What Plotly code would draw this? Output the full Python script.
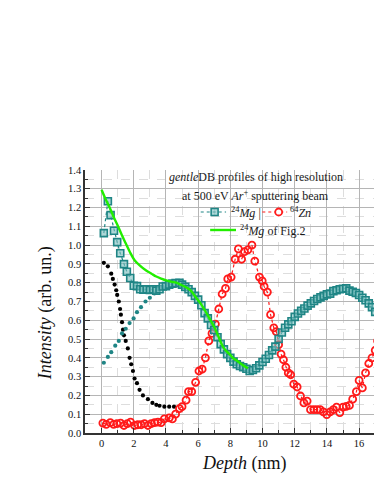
import plotly.graph_objects as go

# ---- data ----
mg_depth = [0.14, 0.39, 0.56, 0.77, 0.97, 1.16, 1.39, 1.57, 1.78, 2.0, 2.2, 2.4, 2.6, 2.8, 3.0,
            3.2, 3.4, 3.6, 3.8, 4.0, 4.2, 4.4, 4.6, 4.84, 5.0, 5.2, 5.4, 5.6, 5.8, 6.0, 6.2,
            6.4, 6.6, 6.8, 7.0, 7.2, 7.4, 7.6, 7.8, 8.0, 8.2, 8.4, 8.6, 8.8, 9.0, 9.2, 9.4,
            9.6, 9.8, 10.0, 10.2, 10.4, 10.6, 10.8, 11.0, 11.2, 11.4, 11.6, 11.8, 12.0, 12.2,
            12.4, 12.6, 12.8, 13.0, 13.2, 13.4, 13.6, 13.8, 14.0, 14.2, 14.4, 14.6, 14.8,
            15.0, 15.2, 15.4, 15.6, 15.8, 16.0, 16.2, 16.4, 16.6, 16.8, 17.0, 17.2, 17.4]
mg_int = [1.064, 1.234, 1.16, 1.077, 1.016, 0.957, 0.899, 0.858, 0.825, 0.784, 0.782, 0.765,
          0.763, 0.765, 0.762, 0.765, 0.758, 0.765, 0.78, 0.782, 0.79, 0.795, 0.798, 0.80,
          0.79, 0.778, 0.765, 0.75, 0.73, 0.71, 0.68, 0.638, 0.61, 0.575, 0.548, 0.51, 0.473,
          0.445, 0.42, 0.40, 0.38, 0.366, 0.357, 0.35, 0.342, 0.33, 0.335, 0.345, 0.36, 0.378,
          0.395, 0.415, 0.44, 0.46, 0.50, 0.535, 0.56, 0.578, 0.595, 0.618, 0.636, 0.65,
          0.663, 0.678, 0.69, 0.703, 0.713, 0.722, 0.73, 0.738, 0.742, 0.755, 0.76, 0.765,
          0.768, 0.77, 0.758, 0.752, 0.745, 0.735, 0.72, 0.707, 0.69, 0.67, 0.645, 0.633, 0.615]

zn_depth = [0.08, 0.29, 0.54, 0.75, 0.95, 1.18, 1.39, 1.6, 1.8, 2.05, 2.25, 2.46, 2.67, 2.88,
            3.08, 3.29, 3.5, 3.7, 3.9, 4.2, 4.4, 4.6, 4.84, 5.0, 5.25, 5.4, 5.6, 5.84, 6.05,
            6.25, 6.45, 6.66, 6.86, 7.07, 7.28, 7.49, 7.7, 7.84, 8.05, 8.3, 8.5, 8.7, 8.88,
            9.09, 9.34, 9.52, 9.81, 9.98, 10.1, 10.3, 10.5, 10.7, 10.85, 11.0, 11.15, 11.3,
            11.45, 11.6, 11.75, 11.94, 12.15, 12.36, 12.57, 12.77, 12.98, 13.19, 13.39, 13.58,
            13.78, 13.99, 14.2, 14.4, 14.6, 14.8, 15.0, 15.2, 15.4, 15.6, 15.83, 16.0, 16.2,
            16.4, 16.6, 16.8, 17.0, 17.15, 17.3]
zn_int = [0.053, 0.046, 0.055, 0.046, 0.05, 0.053, 0.04, 0.05, 0.058, 0.04, 0.044, 0.044, 0.05,
          0.04, 0.05, 0.055, 0.058, 0.055, 0.075, 0.08, 0.075, 0.10, 0.13, 0.14, 0.175, 0.22,
          0.22, 0.27, 0.33, 0.34, 0.40, 0.49, 0.53, 0.58, 0.66, 0.74, 0.77, 0.82, 0.83, 0.925,
          0.98, 0.925, 0.965, 0.975, 1.0, 0.915, 0.83, 0.81, 0.78, 0.75, 0.63, 0.56, 0.54,
          0.47, 0.42, 0.39, 0.35, 0.32, 0.31, 0.26, 0.245, 0.197, 0.16, 0.17, 0.124, 0.124,
          0.124, 0.124, 0.112, 0.098, 0.112, 0.124, 0.138, 0.108, 0.138, 0.142, 0.147, 0.18,
          0.22, 0.28, 0.24, 0.32, 0.37, 0.40, 0.44, 0.49, 0.54]

fig2_depth = [0.0, 0.25, 0.5, 0.75, 1.0, 1.25, 1.5, 1.75, 2.05, 2.4, 2.77, 3.1, 3.4, 3.7, 4.02,
              4.3, 4.64, 4.9, 5.16, 5.4, 5.57, 5.88, 6.19, 6.4, 6.6, 6.8, 7.0, 7.23, 7.5, 7.7,
              7.95, 8.15, 8.37, 8.6, 8.8, 9.1]
fig2_int = [1.295, 1.245, 1.20, 1.15, 1.105, 1.055, 1.01, 0.965, 0.92, 0.89, 0.865, 0.848,
            0.833, 0.822, 0.812, 0.806, 0.80, 0.79, 0.78, 0.768, 0.755, 0.72, 0.685, 0.655,
            0.626, 0.595, 0.564, 0.52, 0.466, 0.44, 0.42, 0.40, 0.387, 0.372, 0.36, 0.345]

black_depth = [0.14, 0.39, 0.6, 0.7, 0.81, 0.91, 0.97, 1.07, 1.15, 1.2, 1.27, 1.33, 1.39, 1.5,
               1.63, 1.74, 1.84, 1.95, 2.05, 2.2, 2.36, 2.57, 2.88, 3.16, 3.4, 3.6, 3.9, 4.2, 4.5]
black_int = [0.906, 0.887, 0.848, 0.82, 0.79, 0.76, 0.735, 0.70, 0.66, 0.63, 0.59, 0.55, 0.52,
             0.49, 0.45, 0.40, 0.366, 0.33, 0.29, 0.265, 0.23, 0.20, 0.18, 0.16, 0.15, 0.145,
             0.14, 0.14, 0.14]

tealdot_depth = [0.14, 0.39, 0.6, 0.85, 1.07, 1.27, 1.5, 1.74, 1.99, 2.2, 2.45, 2.73, 3.0, 3.28,
                 3.55, 3.8, 4.1, 4.4]
tealdot_int = [0.374, 0.405, 0.43, 0.465, 0.49, 0.53, 0.555, 0.585, 0.61, 0.643, 0.67, 0.70,
               0.72, 0.743, 0.763, 0.775, 0.787, 0.79]

x_ticks = [0, 2, 4, 6, 8, 10, 12, 14, 16]

TEAL = "#1f8585"
TEAL_FILL = "rgba(120,190,190,0.6)"
RED = "#ff1a1a"
GREEN = "#22ee00"
SERIF = "Liberation Serif, DejaVu Serif, serif"
TXT = "#1a1a1a"

fig = go.Figure()

fig.add_trace(go.Scatter(
    x=black_depth, y=black_int, mode="markers", showlegend=False,
    marker=dict(symbol="circle", size=4.2, color="#000000")))
fig.add_trace(go.Scatter(
    x=tealdot_depth, y=tealdot_int, mode="markers", showlegend=False,
    marker=dict(symbol="circle", size=4.2, color=TEAL)))
fig.add_trace(go.Scatter(
    x=zn_depth, y=zn_int, mode="lines+markers", showlegend=False,
    line=dict(color=RED, width=1.2, dash="dot"),
    marker=dict(symbol="circle-open", size=7, color=RED, line=dict(width=1.8, color=RED))))
fig.add_trace(go.Scatter(
    x=mg_depth, y=mg_int, mode="lines+markers", showlegend=False,
    line=dict(color=TEAL, width=1.2, dash="dot"),
    marker=dict(symbol="square", size=7, color=TEAL_FILL, line=dict(width=1.6, color=TEAL))))
fig.add_trace(go.Scatter(
    x=fig2_depth, y=fig2_int, mode="lines", showlegend=False,
    line=dict(color=GREEN, width=2.4, shape="spline")))

axis_common = dict(
    showline=True, linecolor="#333333", linewidth=1.5,
    ticks="inside", ticklen=5, tickwidth=1.2, tickcolor="#333333",
    showgrid=True, gridcolor="#b5b5b5", gridwidth=1,
    zeroline=False,
    tickfont=dict(family=SERIF, size=10.5, color="#111111"),
)

# helper converting screen-pixel legend positions to paper coordinates
PL, PR, PT, PB = 85.0, 383.0, 170.0, 433.0


def px(sx):
    return (sx - PL) / (PR - PL)


def py(sy):
    return (PB - sy) / (PB - PT)


hx, hy = 3.5 / (PR - PL), 3.5 / (PB - PT)

shapes = [
    dict(type="line", xref="paper", yref="paper", x0=px(201.5), x1=px(227), y0=py(212), y1=py(212),
         line=dict(color=TEAL, width=1.2, dash="dot")),
    dict(type="rect", xref="paper", yref="paper", x0=px(215.5) - hx, x1=px(215.5) + hx,
         y0=py(212) - hy, y1=py(212) + hy, fillcolor=TEAL_FILL, line=dict(color=TEAL, width=1.6)),
    dict(type="line", xref="paper", yref="paper", x0=px(263.5), x1=px(288.5), y0=py(212), y1=py(212),
         line=dict(color=RED, width=1.2, dash="dot")),
    dict(type="circle", xref="paper", yref="paper", x0=px(280) - hx, x1=px(280) + hx,
         y0=py(212) - hy, y1=py(212) + hy, fillcolor="white", line=dict(color=RED, width=1.8)),
    dict(type="line", xref="paper", yref="paper", x0=px(211), x1=px(237), y0=py(230), y1=py(230),
         line=dict(color=GREEN, width=2.4)),
]

ann_font = dict(family=SERIF, size=12, color=TXT)
annotations = [
    dict(text="<i>gentle</i>DB profiles of high resolution", x=px(257), y=py(177),
         xanchor="center", yanchor="middle", font=ann_font),
    dict(text="at 500 eV <i>Ar</i><sup>+</sup> sputtering beam", x=px(257), y=py(195),
         xanchor="center", yanchor="middle", font=ann_font),
    dict(text="<sup>24</sup><i>Mg</i> |", x=px(229.5), y=py(212), xanchor="left",
         yanchor="middle", font=ann_font),
    dict(text="<sup>64</sup><i>Zn</i>", x=px(289.5), y=py(212), xanchor="left",
         yanchor="middle", font=ann_font),
    dict(text="<sup>24</sup><i>Mg</i> of Fig.2", x=px(239.5), y=py(230), xanchor="left",
         yanchor="middle", font=ann_font),
    dict(text="<i>Depth</i> (nm)", x=px(246), y=py(463), xanchor="center", yanchor="middle",
         font=dict(family=SERIF, size=18, color="#111111")),
    dict(text="<i>Intensity</i> (arb. un.)", x=px(45), y=py(313), textangle=-90,
         xanchor="center", yanchor="middle", font=dict(family=SERIF, size=18, color="#111111")),
]
for a in annotations:
    a.update(xref="paper", yref="paper", showarrow=False)

fig.update_layout(
    width=382, height=494,
    # page body adds an 8px offset; margins compensate so the plot sits like the reference
    margin=dict(l=77, r=7, t=162, b=69),
    paper_bgcolor="white", plot_bgcolor="white",
    font=dict(family=SERIF, color=TXT),
    showlegend=False,
    xaxis=dict(range=[-1.03, 17.36], tickvals=x_ticks, **axis_common,
               minor=dict(dtick=1, ticks="inside", ticklen=3, tickcolor="#333333",
                          showgrid=True, gridcolor="#dddddd", griddash="dash")),
    yaxis=dict(range=[0, 1.4], dtick=0.1, tick0=0, tickformat=".1f", mirror="ticks",
               **axis_common,
               minor=dict(dtick=0.05, ticks="inside", ticklen=3, tickcolor="#333333",
                          showgrid=True, gridcolor="#dddddd", griddash="dash")),
    shapes=shapes,
    annotations=annotations,
)

fig.write_html("out.html")
